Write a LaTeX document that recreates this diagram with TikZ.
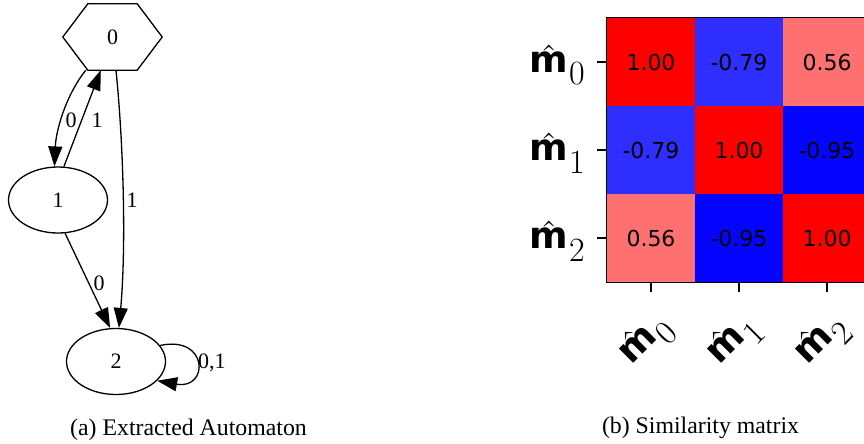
\documentclass[tikz,border=0pt]{standalone}
\usepackage{fontspec}
\setmainfont{Liberation Serif}
\newfontfamily\dejavu{DejaVu Sans}
\newfontfamily\dejavub{DejaVu Sans Bold}
\newfontfamily\lmr{Latin Modern Roman}
\usetikzlibrary{arrows.meta,shapes.geometric,calc}
\definecolor{cred}{rgb}{1,0,0}
\definecolor{cblue}{rgb}{0.02,0.02,1}
\definecolor{clblue}{rgb}{0.18,0.18,1}
\definecolor{clred}{rgb}{1,0.44,0.44}
\newsavebox\mybmbox
\newcommand\hatm{\sbox\mybmbox{\dejavub\fontsize{37}{40}\selectfont m}\rlap{\hbox to \wd\mybmbox{\hss\raisebox{4pt}{\lmr\char"02C6}\hss}}\usebox\mybmbox}
\newcommand\mlab[1]{\hatm\kern1pt\raisebox{-13pt}{\lmr #1}}
\begin{document}
\begin{tikzpicture}[x=1pt,y=-1pt,
  stnode/.style={draw, ellipse, line width=1.3pt, minimum width=99pt, minimum height=66pt, inner sep=0pt, font=\fontsize{22}{24}\selectfont},
  hexbox/.style={minimum width=99pt, minimum height=66pt, inner sep=0pt, font=\fontsize{22}{24}\selectfont},
  arr/.style={line width=1.3pt, -{Triangle[length=20pt,width=14pt]}},
  elab/.style={inner sep=1pt, font=\fontsize{22}{24}\selectfont},
  cellbox/.style={minimum size=88pt, inner sep=0pt, font=\dejavu\fontsize{22}{24}\selectfont},
  tickline/.style={line width=1.2pt},
  axlab/.style={inner sep=0pt, font=\fontsize{34}{40}\selectfont},
  captext/.style={inner sep=0pt, font=\fontsize{23.8}{26}\selectfont}]
\useasboundingbox (0,0) rectangle (864,444);
% ---------- automaton ----------
\node[hexbox] (n0) at (112.5,37) {0};
\draw[line width=1.3pt] (n0.west) -- ($(n0.north west)+(25,0)$) -- ($(n0.north east)+(-25,0)$) -- (n0.east) -- ($(n0.south east)+(-25,0)$) -- ($(n0.south west)+(25,0)$) -- cycle;
\node[stnode] (n1) at (58,200) {1};
\node[stnode] (n2) at (116,361.5) {2};
\draw[arr] ($(n0.south west)+(23,0)$) .. controls (66,95) and (56,130) .. (n1.96);
\draw[arr] (n1.80) -- ($(n0.south west)+(38,0)$);
\draw[arr] ($(n0.south)+(3.5,0)$) .. controls (124,150) and (126,250) .. (n2.85);
\draw[arr] (n1.-78) -- (n2.100);
\draw[arr] (n2.20) .. controls (209,335) and (209,390) .. (n2.-25);
\node[elab] (l01) at (71,120) {0};
\node[elab] (l10) at (97,120) {1};
\node[elab] (l02) at (132,200) {1};
\node[elab] (l12) at (99,283) {0};
\node[elab, anchor=west] (l22) at (197,363) {0,1};
\node[captext] (capa) at (188.5,430) {(a) Extracted Automaton};
% ---------- similarity matrix ----------
\begin{scope}
\clip (0,0) rectangle (864,444);
\node[cellbox, fill=cred]   (c00) at (651,62)  {1.00};
\node[cellbox, fill=clblue] (c01) at (739,62)  {-0.79};
\node[cellbox, fill=clred]  (c02) at (827,62)  {0.56};
\node[cellbox, fill=clblue] (c10) at (651,150) {-0.79};
\node[cellbox, fill=cred]   (c11) at (739,150) {1.00};
\node[cellbox, fill=cblue]  (c12) at (827,150) {-0.95};
\node[cellbox, fill=clred]  (c20) at (651,238) {0.56};
\node[cellbox, fill=cblue]  (c21) at (739,238) {-0.95};
\node[cellbox, fill=cred]   (c22) at (827,238) {1.00};
\draw[line width=1.2pt] (c02.north east) -- (c00.north west) -- (c20.south west) -- (c22.south east);
\end{scope}
\draw[tickline] (c00.west) -- ++(-10,0);
\draw[tickline] (c10.west) -- ++(-10,0);
\draw[tickline] (c20.west) -- ++(-10,0);
\draw[tickline] (c20.south) -- ++(0,10);
\draw[tickline] (c21.south) -- ++(0,10);
\draw[tickline] (c22.south) -- ++(0,10);
\node[axlab, anchor=base east] (y0) at (585,72) {\mlab{0}};
\node[axlab, anchor=base east] (y1) at (585,160) {\mlab{1}};
\node[axlab, anchor=base east] (y2) at (585,248) {\mlab{2}};
\node[axlab, rotate=45] (x0) at (646,341) {\mlab{0}};
\node[axlab, rotate=45] (x1) at (734,341) {\mlab{1}};
\node[axlab, rotate=45] (x2) at (822,341) {\mlab{2}};
\node[captext] (capb) at (700.5,428) {(b) Similarity matrix};
\end{tikzpicture}
\end{document}
